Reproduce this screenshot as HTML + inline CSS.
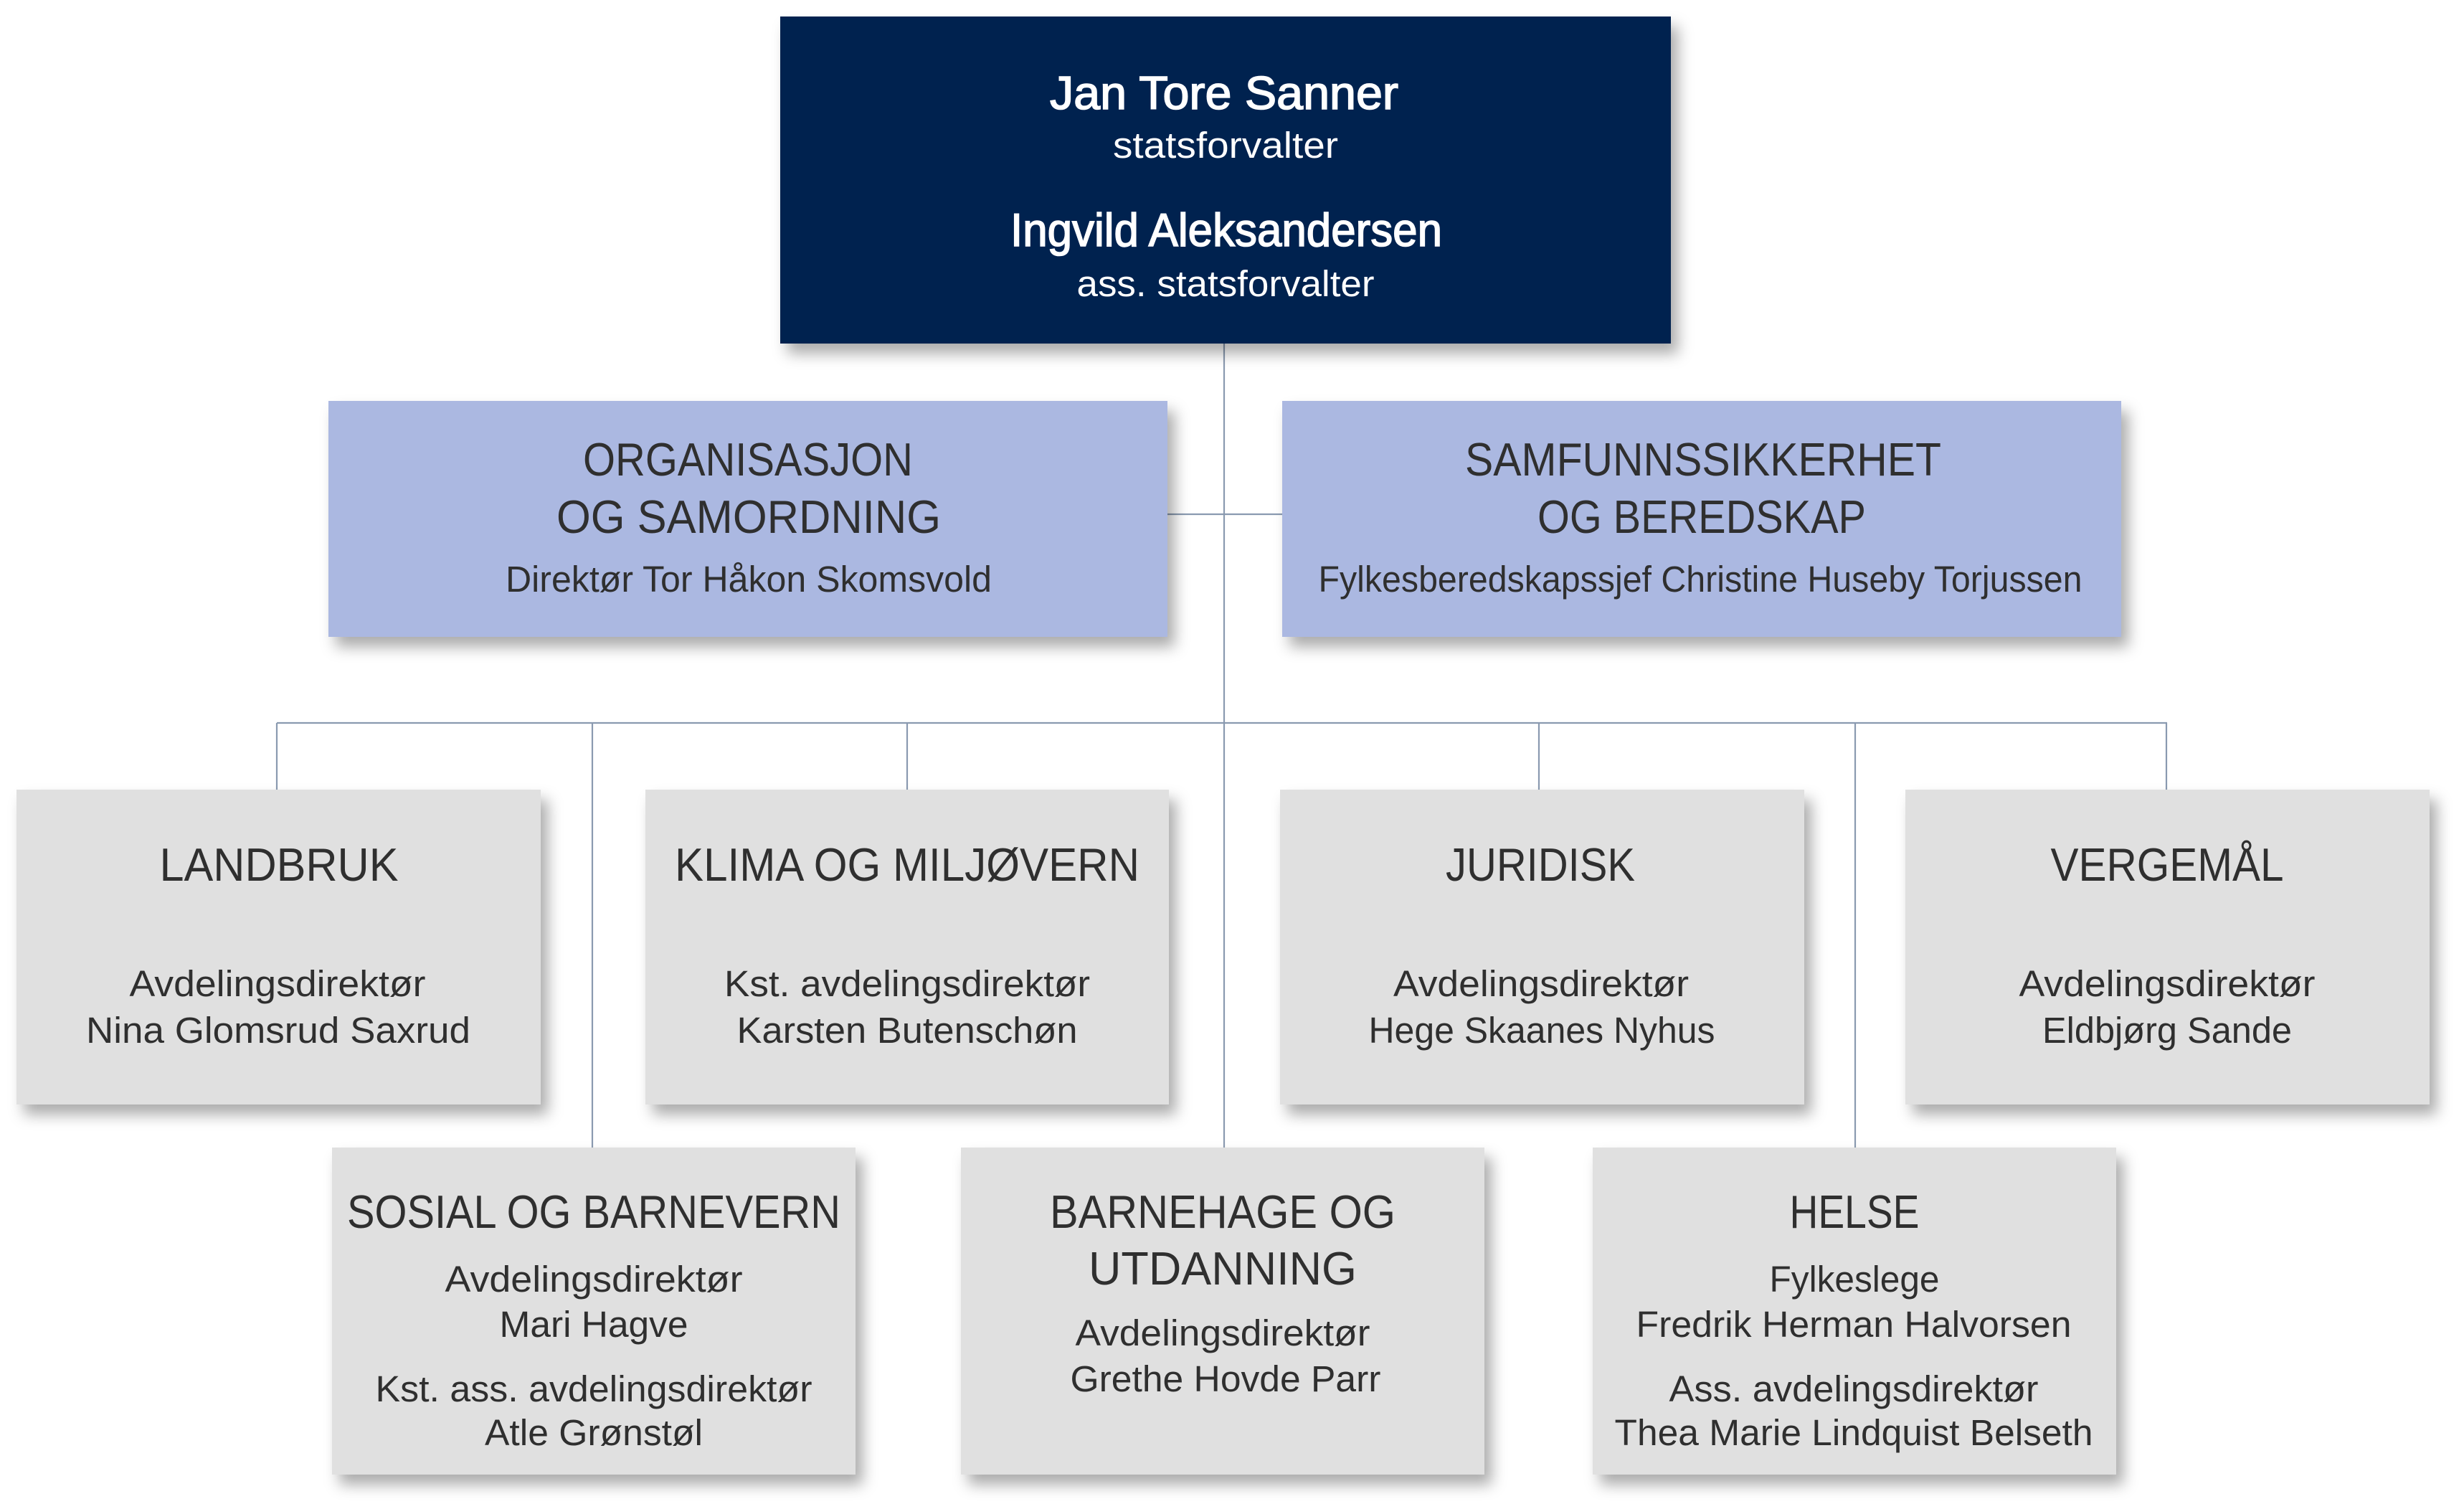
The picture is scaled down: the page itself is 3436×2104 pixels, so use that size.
<!DOCTYPE html>
<html>
<head>
<meta charset="utf-8">
<style>
  html, body { margin: 0; padding: 0; background: #ffffff; }
  body { width: 3436px; height: 2104px; overflow: hidden; }
  svg { display: block; }
  text { font-family: "Liberation Sans", Arial, sans-serif; }
  .t { font-size: 65px; fill: #2f2f2f; }
  .s { font-size: 51px; fill: #2f2f2f; }
  .tb { font-size: 65px; fill: #ffffff; stroke: #ffffff; stroke-width: 1.6px; }
  .sw { font-size: 51px; fill: #ffffff; }
</style>
</head>
<body>
<svg width="3436" height="2104" viewBox="0 0 3436 2104" xmlns="http://www.w3.org/2000/svg">
  <defs>
    <filter id="sh" x="-10%" y="-10%" width="125%" height="130%">
      <feDropShadow dx="10" dy="14" stdDeviation="10" flood-color="#000000" flood-opacity="0.33"/>
    </filter>
  </defs>

  <!-- connectors -->
  <g stroke="#8a9ab0" stroke-width="2.2" fill="none">
    <line x1="1707" y1="479" x2="1707" y2="1600"/>
    <line x1="1628" y1="717" x2="1788" y2="717"/>
    <line x1="386" y1="1008" x2="3022" y2="1008"/>
    <line x1="386" y1="1008" x2="386" y2="1101"/>
    <line x1="826" y1="1008" x2="826" y2="1600"/>
    <line x1="1265" y1="1008" x2="1265" y2="1101"/>
    <line x1="2146" y1="1008" x2="2146" y2="1101"/>
    <line x1="2587" y1="1008" x2="2587" y2="1600"/>
    <line x1="3021" y1="1008" x2="3021" y2="1101"/>
  </g>

  <!-- boxes -->
  <g filter="url(#sh)">
    <rect x="1088" y="23" width="1242" height="456" fill="#03234f"/>
    <rect x="458" y="559" width="1170" height="329" fill="#abb8e1"/>
    <rect x="1788" y="559" width="1170" height="329" fill="#abb8e1"/>
    <rect x="23" y="1101" width="731" height="439" fill="#e0e0e0"/>
    <rect x="900" y="1101" width="730" height="439" fill="#e0e0e0"/>
    <rect x="1785" y="1101" width="731" height="439" fill="#e0e0e0"/>
    <rect x="2657" y="1101" width="731" height="439" fill="#e0e0e0"/>
    <rect x="463" y="1600" width="730" height="456" fill="#e0e0e0"/>
    <rect x="1340" y="1600" width="730" height="456" fill="#e0e0e0"/>
    <rect x="2221" y="1600" width="730" height="456" fill="#e0e0e0"/>
  </g>

  <g text-anchor="middle">
    <!-- top box text -->
    <text class="tb" x="1707" y="152" textLength="486" lengthAdjust="spacingAndGlyphs">Jan Tore Sanner</text>
    <text class="sw" x="1709" y="220" textLength="314" lengthAdjust="spacingAndGlyphs">statsforvalter</text>
    <text class="tb" x="1710" y="343" textLength="602" lengthAdjust="spacingAndGlyphs">Ingvild Aleksandersen</text>
    <text class="sw" x="1709" y="413" textLength="415" lengthAdjust="spacingAndGlyphs">ass. statsforvalter</text>

    <!-- staff boxes -->
    <text class="t" x="1043" y="663" textLength="460" lengthAdjust="spacingAndGlyphs">ORGANISASJON</text>
    <text class="t" x="1044" y="743" textLength="536" lengthAdjust="spacingAndGlyphs">OG SAMORDNING</text>
    <text class="s" x="1044" y="825" textLength="678" lengthAdjust="spacingAndGlyphs">Direktør Tor Håkon Skomsvold</text>

    <text class="t" x="2375" y="663" textLength="664" lengthAdjust="spacingAndGlyphs">SAMFUNNSSIKKERHET</text>
    <text class="t" x="2373" y="743" textLength="458" lengthAdjust="spacingAndGlyphs">OG BEREDSKAP</text>
    <text class="s" x="2371" y="825" textLength="1065" lengthAdjust="spacingAndGlyphs">Fylkesberedskapssjef Christine Huseby Torjussen</text>

    <!-- row 1 -->
    <text class="t" x="389" y="1228" textLength="333" lengthAdjust="spacingAndGlyphs">LANDBRUK</text>
    <text class="s" x="387" y="1389" textLength="413" lengthAdjust="spacingAndGlyphs">Avdelingsdirektør</text>
    <text class="s" x="388" y="1454" textLength="536" lengthAdjust="spacingAndGlyphs">Nina Glomsrud Saxrud</text>

    <text class="t" x="1265" y="1228" textLength="648" lengthAdjust="spacingAndGlyphs">KLIMA OG MILJØVERN</text>
    <text class="s" x="1265" y="1389" textLength="510" lengthAdjust="spacingAndGlyphs">Kst. avdelingsdirektør</text>
    <text class="s" x="1265" y="1454" textLength="475" lengthAdjust="spacingAndGlyphs">Karsten Butenschøn</text>

    <text class="t" x="2148" y="1228" textLength="264" lengthAdjust="spacingAndGlyphs">JURIDISK</text>
    <text class="s" x="2149" y="1389" textLength="412" lengthAdjust="spacingAndGlyphs">Avdelingsdirektør</text>
    <text class="s" x="2150" y="1454" textLength="483" lengthAdjust="spacingAndGlyphs">Hege Skaanes Nyhus</text>

    <text class="t" x="3022" y="1228" textLength="325" lengthAdjust="spacingAndGlyphs">VERGEMÅL</text>
    <text class="s" x="3022" y="1389" textLength="413" lengthAdjust="spacingAndGlyphs">Avdelingsdirektør</text>
    <text class="s" x="3022" y="1454" textLength="348" lengthAdjust="spacingAndGlyphs">Eldbjørg Sande</text>

    <!-- row 2 -->
    <text class="t" x="828" y="1712" textLength="688" lengthAdjust="spacingAndGlyphs">SOSIAL OG BARNEVERN</text>
    <text class="s" x="828" y="1801" textLength="415" lengthAdjust="spacingAndGlyphs">Avdelingsdirektør</text>
    <text class="s" x="828" y="1864" textLength="263" lengthAdjust="spacingAndGlyphs">Mari Hagve</text>
    <text class="s" x="828" y="1954" textLength="609" lengthAdjust="spacingAndGlyphs">Kst. ass. avdelingsdirektør</text>
    <text class="s" x="828" y="2015" textLength="304" lengthAdjust="spacingAndGlyphs">Atle Grønstøl</text>

    <text class="t" x="1705" y="1712" textLength="482" lengthAdjust="spacingAndGlyphs">BARNEHAGE OG</text>
    <text class="t" x="1705" y="1791" textLength="374" lengthAdjust="spacingAndGlyphs">UTDANNING</text>
    <text class="s" x="1705" y="1876" textLength="411" lengthAdjust="spacingAndGlyphs">Avdelingsdirektør</text>
    <text class="s" x="1709" y="1940" textLength="433" lengthAdjust="spacingAndGlyphs">Grethe Hovde Parr</text>

    <text class="t" x="2586" y="1712" textLength="181" lengthAdjust="spacingAndGlyphs">HELSE</text>
    <text class="s" x="2586" y="1801" textLength="237" lengthAdjust="spacingAndGlyphs">Fylkeslege</text>
    <text class="s" x="2585" y="1864" textLength="607" lengthAdjust="spacingAndGlyphs">Fredrik Herman Halvorsen</text>
    <text class="s" x="2585" y="1954" textLength="515" lengthAdjust="spacingAndGlyphs">Ass. avdelingsdirektør</text>
    <text class="s" x="2585" y="2015" textLength="667" lengthAdjust="spacingAndGlyphs">Thea Marie Lindquist Belseth</text>
  </g>
</svg>
</body>
</html>
